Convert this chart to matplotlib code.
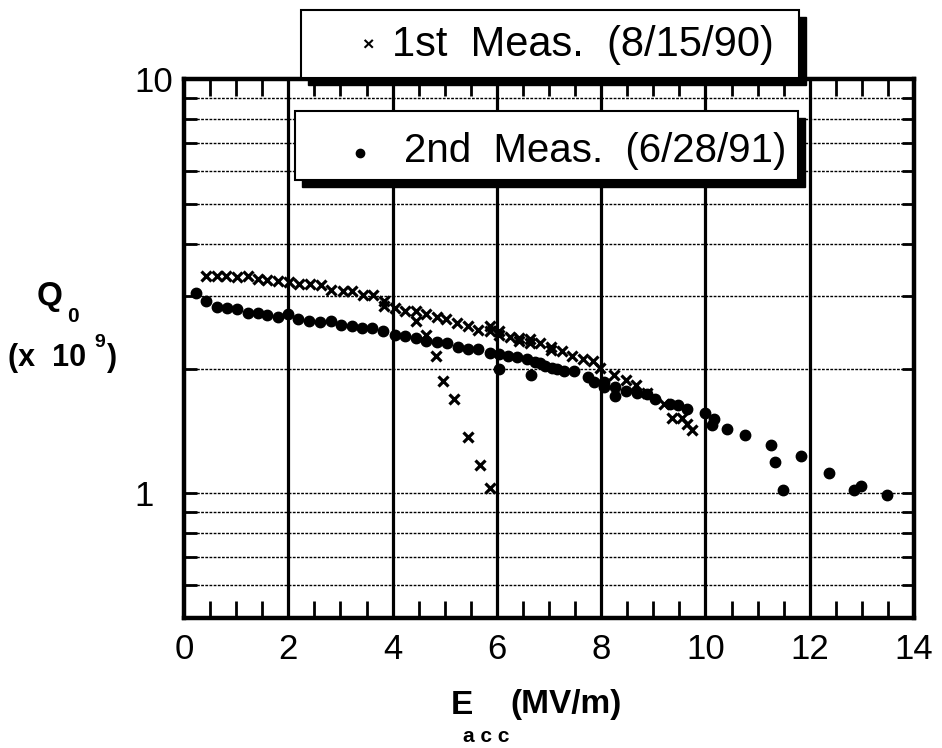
import matplotlib.pyplot as plt
from matplotlib.patches import Rectangle
from matplotlib.ticker import FixedLocator, NullFormatter

plt.rcParams['font.family'] = ['Liberation Sans', 'DejaVu Sans']

# 1st measurement (8/15/90), crosses
first_x = [0.42, 0.63, 0.81, 1.01, 1.22, 1.41, 1.60, 1.81, 2.01, 2.21,
           2.42, 2.62, 2.81, 3.04, 3.23, 3.43, 3.62, 3.84, 3.84, 4.05,
           4.24, 4.44, 4.44, 4.64, 4.85, 5.02, 5.24, 5.44, 5.64, 5.86,
           5.87, 6.05, 6.05, 6.25, 6.43, 6.43, 6.64, 6.64, 6.83, 7.03,
           7.03, 7.24, 7.45, 7.65, 7.84, 7.97, 8.25, 8.47, 8.67, 8.88,
           9.20, 9.36, 9.55, 9.65, 9.75, 4.65, 4.83, 4.97, 5.18, 5.45,
           5.68, 5.86]
first_q = [3.34, 3.35, 3.35, 3.32, 3.34, 3.29, 3.27, 3.26, 3.23, 3.20,
           3.20, 3.18, 3.10, 3.07, 3.07, 3.01, 3.01, 2.91, 2.83, 2.80,
           2.76, 2.75, 2.60, 2.71, 2.67, 2.63, 2.58, 2.53, 2.48, 2.53,
           2.46, 2.46, 2.41, 2.39, 2.37, 2.33, 2.36, 2.30, 2.30, 2.26,
           2.22, 2.20, 2.15, 2.11, 2.09, 2.01, 1.93, 1.88, 1.83, 1.75,
           1.64, 1.52, 1.52, 1.47, 1.42, 2.41, 2.15, 1.87, 1.69, 1.37,
           1.17, 1.03]

# 2nd measurement (6/28/91), dots
second_x = [0.23, 0.42, 0.63, 0.82, 1.01, 1.22, 1.41, 1.60, 1.81, 2.00,
            2.19, 2.40, 2.61, 2.81, 3.02, 3.22, 3.42, 3.61, 3.82, 4.05,
            4.24, 4.44, 4.64, 4.85, 5.05, 5.26, 5.45, 5.64, 5.87, 6.05,
            6.05, 6.22, 6.39, 6.58, 6.65, 6.73, 6.83, 6.92, 7.05, 7.15,
            7.28, 7.47, 7.75, 7.86, 8.06, 8.06, 8.27, 8.27, 8.47, 8.68,
            8.87, 9.04, 9.32, 9.47, 9.65, 9.99, 10.17, 10.13, 10.41, 10.75,
            11.26, 11.33, 11.49, 11.84, 12.37, 12.84, 12.98, 13.49]
second_q = [3.04, 2.91, 2.81, 2.80, 2.79, 2.72, 2.72, 2.70, 2.67, 2.71,
            2.64, 2.61, 2.59, 2.60, 2.55, 2.53, 2.50, 2.51, 2.46, 2.41,
            2.40, 2.37, 2.33, 2.32, 2.30, 2.26, 2.23, 2.23, 2.18, 2.17,
            1.99, 2.14, 2.13, 2.11, 1.93, 2.08, 2.06, 2.03, 2.01, 1.99,
            1.97, 1.97, 1.91, 1.86, 1.86, 1.81, 1.81, 1.72, 1.77, 1.75,
            1.74, 1.69, 1.64, 1.63, 1.60, 1.56, 1.51, 1.46, 1.43, 1.38,
            1.31, 1.19, 1.02, 1.23, 1.12, 1.02, 1.04, 0.99]

x_ticks = [0, 2, 4, 6, 8, 10, 12, 14]
y_grid = [0.6, 0.7, 0.8, 0.9, 1, 2, 3, 4, 5, 6, 7, 8, 9]

W, H = 942, 748
fig = plt.figure(figsize=(W / 100, H / 100), dpi=100)


def fx(px):
    return px / W


def fy(py):
    return 1 - py / H


ax = fig.add_axes([fx(184), fy(618), fx(914) - fx(184), fy(79) - fy(618)])
ax.set_yscale('log')
ax.set_xlim(0, 14)
ax.set_ylim(0.5, 10)

# grid: solid verticals, fine dashed horizontals
for xv in x_ticks[1:-1]:
    ax.axvline(xv, color='black', lw=2.3, zorder=1)
for yv in y_grid:
    ax.axhline(yv, color='black', lw=1, ls=(0, (2, 1)), zorder=1)

ax.plot(first_x, first_q, ls='none', marker='x', ms=6.5, mew=2.3, color='black', zorder=3)
ax.plot(second_x, second_q, ls='none', marker='o', ms=7.5, color='black', zorder=3)

for s in ax.spines.values():
    s.set_linewidth(3.2)

ax.xaxis.set_major_locator(FixedLocator(x_ticks))
ax.xaxis.set_minor_locator(FixedLocator([i * 0.5 for i in range(29) if i % 4 != 0]))
ax.yaxis.set_major_locator(FixedLocator([1, 10]))
ax.yaxis.set_minor_locator(FixedLocator(y_grid))
ax.yaxis.set_minor_formatter(NullFormatter())
ax.set_yticklabels(['1', '10'])
for lab in ax.get_yticklabels():
    lab.set_horizontalalignment('left')
ax.tick_params(axis='x', which='major', direction='in', length=0, pad=11, labelsize=25)
ax.tick_params(axis='x', which='minor', direction='in', length=12, width=2, top=True)
ax.tick_params(axis='y', which='both', direction='in', length=9, width=2, right=True)
ax.tick_params(axis='y', which='major', pad=36, labelsize=25)

# axis labels built from pieces
fig.text(fx(50), fy(297), 'Q', fontsize=24, fontweight='bold', ha='center', va='center')
fig.text(fx(73), fy(316), '0', fontsize=15, fontweight='bold', ha='center', va='center')
fig.text(fx(8), fy(358), '(x  10', fontsize=22, fontweight='bold', ha='left', va='center')
fig.text(fx(100), fy(343), '9', fontsize=14, fontweight='bold', ha='center', va='center')
fig.text(fx(107), fy(358), ')', fontsize=22, fontweight='bold', ha='left', va='center')

fig.text(fx(462), fy(705), 'E', fontsize=24, fontweight='bold', ha='center', va='center')
fig.text(fx(486), fy(737), 'a c c', fontsize=15, fontweight='bold', ha='center', va='center')
fig.text(fx(510), fy(705), '(MV/m)', fontsize=24, fontweight='bold', ha='left', va='center')


# legend boxes with drop shadows
def box(x0, y0, x1, y1, sh=7):
    fig.add_artist(Rectangle((fx(x0 + sh), fy(y1 + sh)), fx(x1 - x0), fy(y0) - fy(y1),
                             transform=fig.transFigure, facecolor='black',
                             edgecolor='black', zorder=10))
    fig.add_artist(Rectangle((fx(x0), fy(y1)), fx(x1 - x0), fy(y0) - fy(y1),
                             transform=fig.transFigure, facecolor='white',
                             edgecolor='black', lw=1.5, zorder=11))


box(301, 10, 799, 78)
fig.text(fx(368), fy(46), '×', fontsize=14, fontweight='bold', ha='center', va='center', zorder=12)
fig.text(fx(392), fy(45), '1st  Meas.  (8/15/90)', fontsize=30, ha='left', va='center', zorder=12)

box(295, 111, 798, 180)
fig.add_artist(plt.Line2D([fx(360)], [fy(153)], marker='o', ms=6, color='black',
                          transform=fig.transFigure, zorder=12))
fig.text(fx(404), fy(151), '2nd  Meas.  (6/28/91)', fontsize=29, ha='left', va='center', zorder=12)

fig.savefig('out.png', dpi=100)
